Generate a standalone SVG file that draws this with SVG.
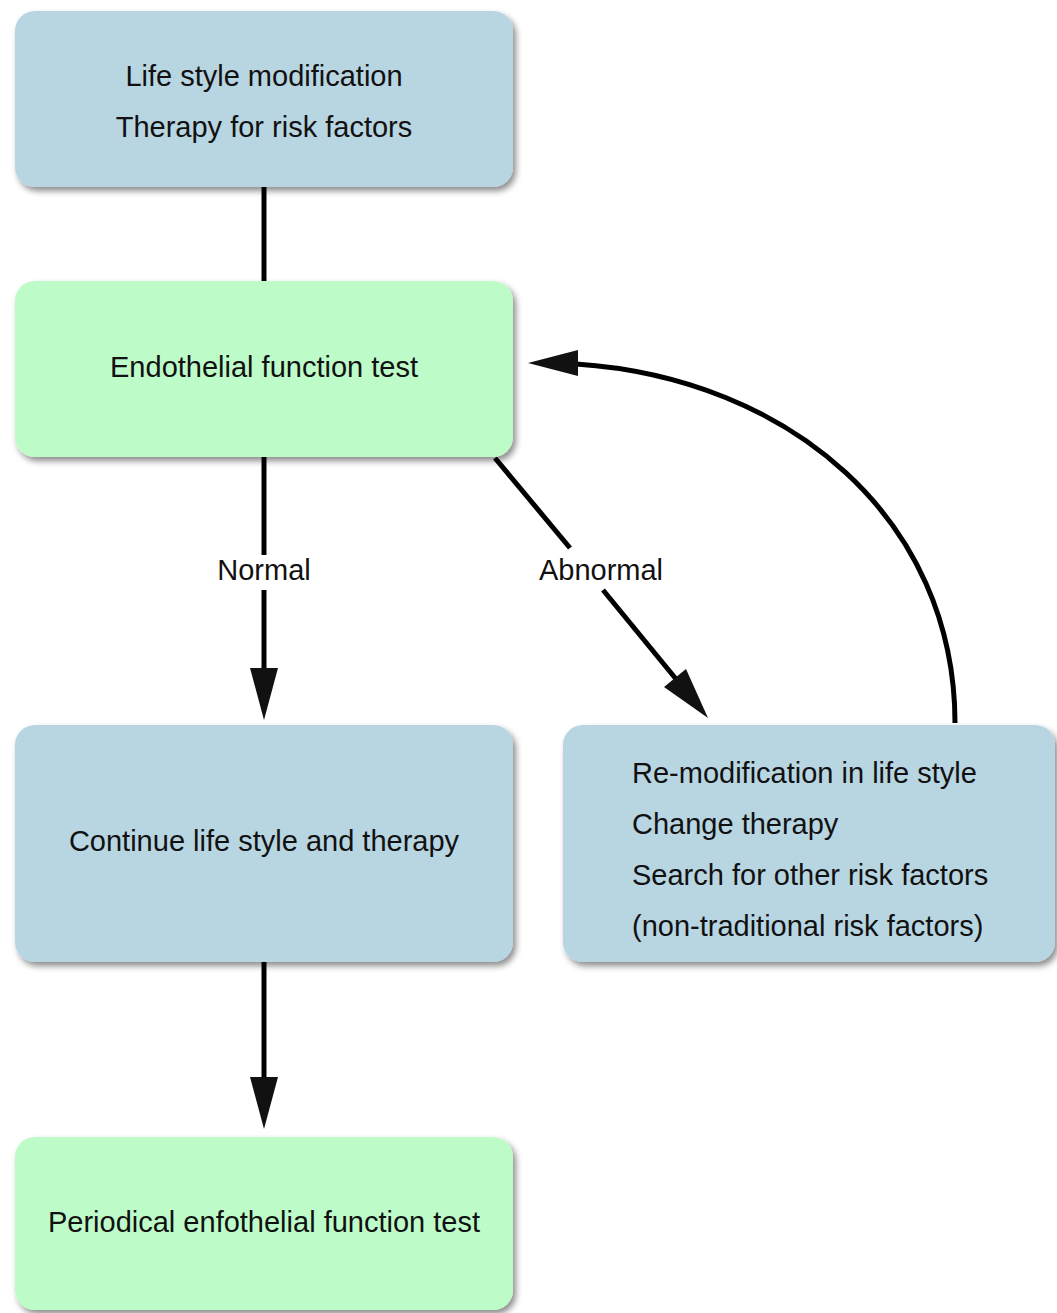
<svg xmlns="http://www.w3.org/2000/svg" width="1057" height="1313" viewBox="0 0 1057 1313">
<style>
.blue{fill:#b8d5e2}
.green{fill:#bdfcc9}
.box{filter:url(#sh)}
text{font-family:"Liberation Sans",Arial,sans-serif;font-size:29px;fill:#111}
.c{text-anchor:middle}
.ln{stroke:#000;stroke-width:5;fill:none}
.ah{fill:#111}
</style>
<defs>
<filter id="sh" x="-10%" y="-10%" width="120%" height="130%">
<feDropShadow dx="3" dy="4" stdDeviation="3" flood-color="#000" flood-opacity="0.45"/>
</filter>
</defs>
<rect width="1057" height="1313" fill="#fff"/>
<g id="connectors">
<line class="ln" x1="264" y1="187" x2="264" y2="281"/>
<line class="ln" x1="264" y1="457" x2="264" y2="555"/>
<line class="ln" x1="264" y1="590" x2="264" y2="670"/>
<polygon class="ah" points="264,720 250,668 278,668"/>
<line class="ln" x1="495" y1="458" x2="570" y2="548"/>
<line class="ln" x1="603" y1="590" x2="676" y2="679"/>
<polygon class="ah" points="708,718 686,669 664,687"/>
<path class="ln" d="M955,723 C955,520 790,378 576,364"/>
<polygon class="ah" points="528,363 578,350 578,376"/>
<line class="ln" x1="264" y1="962" x2="264" y2="1079"/>
<polygon class="ah" points="264,1129 250,1077 278,1077"/>
<text class="c" x="264" y="580">Normal</text>
<text class="c" x="601" y="580">Abnormal</text>
</g>
<g id="n1"><rect class="box blue" x="15" y="11" width="498" height="176" rx="20"/>
<text class="c" x="264" y="86">Life style modification</text>
<text class="c" x="264" y="137">Therapy for risk factors</text></g>
<g id="n2"><rect class="box green" x="15" y="281" width="498" height="176" rx="20"/>
<text class="c" x="264" y="377">Endothelial function test</text></g>
<g id="n3"><rect class="box blue" x="15" y="725" width="498" height="237" rx="20"/>
<text class="c" x="264" y="851">Continue life style and therapy</text></g>
<g id="n4"><rect class="box blue" x="563" y="725" width="492" height="237" rx="20"/>
<text x="632" y="783">Re-modification in life style</text>
<text x="632" y="834">Change therapy</text>
<text x="632" y="885">Search for other risk factors</text>
<text x="632" y="936">(non-traditional risk factors)</text></g>
<g id="n5"><rect class="box green" x="15" y="1137" width="498" height="173" rx="20"/>
<text class="c" x="264" y="1232">Periodical enfothelial function test</text></g>
</svg>
